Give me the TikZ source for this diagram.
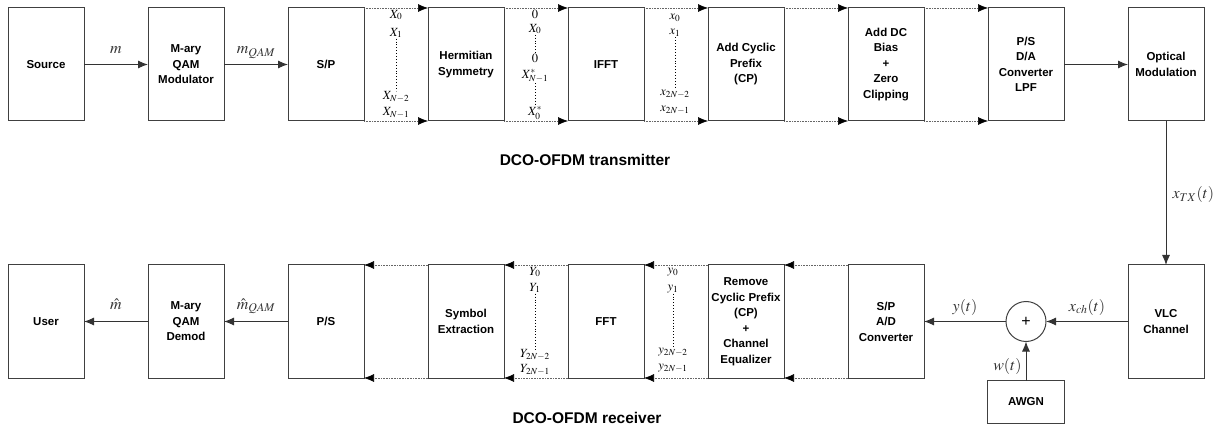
\documentclass[tikz,border=0pt]{standalone}
\usepackage{amsmath}
\usepackage{mathptmx}
\usepackage[no-math]{fontspec}
\newfontfamily\blockfont{Liberation Sans}
\usetikzlibrary{arrows.meta,positioning,calc}

\begin{document}
\begin{tikzpicture}[
    x=1pt, y=-1pt,
    node distance=64pt,
    block/.style={rectangle, draw=black!75, line width=1pt, outer sep=0pt, inner sep=1pt,
        minimum width=76pt, minimum height=113pt, align=center,
        font=\blockfont\bfseries\fontsize{11.5}{15.5}\selectfont},
    noise/.style={block, minimum width=77pt, minimum height=43pt},
    adder/.style={circle, draw=black!75, line width=1pt, outer sep=0pt, inner sep=0pt,
        minimum size=40pt, font=\blockfont\fontsize{16}{16}\selectfont},
    connection/.style={-{Latex[length=10pt,width=8pt]}, line width=1pt, black!80},
    bus/.style={-{Latex[length=10pt,width=8pt,color=black]}, densely dotted, line width=0.6pt, black!60},
    vdots/.style={line width=0.9pt, dash pattern=on 0.9pt off 2pt},
    lbl/.style={inner sep=1pt, text depth=0pt, font=\fontsize{16}{16}\selectfont},
    vec/.style={inner sep=0.5pt, font=\fontsize{12.5}{12.5}\selectfont},
    title/.style={font=\blockfont\bfseries\fontsize{15.5}{18}\selectfont}
]
\useasboundingbox (0,0) rectangle (1223,430);

% Transmitter
\node[block] (src) at (46,64.5) {Source};
\node[block, right=of src] (mod) {M-ary\\QAM\\Modulator};
\node[block, right=of mod] (sp) {S/P};
\node[block, right=of sp] (herm) {Hermitian\\Symmetry};
\node[block, right=of herm] (ifft) {IFFT};
\node[block, right=of ifft] (acp) {Add Cyclic\\Prefix\\(CP)};
\node[block, right=of acp] (adc) {Add DC\\Bias\\+\\Zero\\Clipping};
\node[block, right=of adc] (ps) {P/S\\D/A\\Converter\\LPF};
\node[block, right=of ps] (opt) {Optical\\Modulation};
\node[title] (txt) at (585,160) {DCO-OFDM transmitter};

% Receiver
\node[block, below=144pt of src] (usr) {User};
\node[block, below=144pt of mod] (dem) {M-ary\\QAM\\Demod};
\node[block, below=144pt of sp] (ps2) {P/S};
\node[block, below=144pt of herm] (sym) {Symbol\\Extraction};
\node[block, below=144pt of ifft] (fft) {FFT};
\node[block, below=144pt of acp] (rcp) {Remove\\Cyclic Prefix\\(CP)\\+\\Channel\\Equalizer};
\node[block, below=144pt of adc] (spad) {S/P\\A/D\\Converter};
\node[block, below=144pt of opt] (vlc) {VLC\\Channel};
\node[adder] (sum) at (ps |- vlc) {+};
\node[noise, below=39pt of sum] (awgn) {AWGN};
\node[title] (rxt) at (587,418) {DCO-OFDM receiver};

% Subcarrier labels
\node[vec] (a0) at (396,15) {$X_0$};
\node[vec] (a1) at (396,33) {$X_1$};
\node[vec] (a2) at (396,97) {$X_{N-2}$};
\node[vec] (a3) at (396,113) {$X_{N-1}$};
\draw[vdots] (a1) -- (a2);

\node[vec] (b0) at (535,14) {$0$};
\node[vec] (b1) at (535,29) {$X_0$};
\node[vec] (b2) at (535,58) {$0$};
\node[vec] (b3) at (535,76) {$X^*_{N-1}$};
\node[vec] (b4) at (535,113) {$X^*_0$};
\draw[vdots] (b1) -- (b2);
\draw[vdots] (b3) -- (b4);

\node[vec] (c0) at (675,18) {$x_0$};
\node[vec] (c1) at (675,33) {$x_1$};
\node[vec] (c2) at (675,94) {$x_{2N-2}$};
\node[vec] (c3) at (675,110) {$x_{2N-1}$};
\draw[vdots] (c1) -- (c2);

\node[vec] (d0) at (535,272) {$Y_0$};
\node[vec] (d1) at (535,288) {$Y_1$};
\node[vec] (d2) at (535,355) {$Y_{2N-2}$};
\node[vec] (d3) at (535,370) {$Y_{2N-1}$};
\draw[vdots] (d1) -- (d2);

\node[vec] (e0) at (673,272) {$y_0$};
\node[vec] (e1) at (673,289) {$y_1$};
\node[vec] (e2) at (673,352) {$y_{2N-2}$};
\node[vec] (e3) at (673,368) {$y_{2N-1}$};
\draw[vdots] (e1) -- (e2);

% Transmitter connections
\draw[connection] (src) -- node[lbl, above=9pt] {$m$} (mod);
\draw[connection] (mod) -- node[lbl, above=9pt] {$m_{QAM}$} (sp);
\draw[bus] (sp.north east) -- (herm.north west);
\draw[bus] (sp.south east) -- (herm.south west);
\draw[bus] (herm.north east) -- (ifft.north west);
\draw[bus] (herm.south east) -- (ifft.south west);
\draw[bus] (ifft.north east) -- (acp.north west);
\draw[bus] (ifft.south east) -- (acp.south west);
\draw[bus] (acp.north east) -- (adc.north west);
\draw[bus] (acp.south east) -- (adc.south west);
\draw[bus] (adc.north east) -- (ps.north west);
\draw[bus] (adc.south east) -- (ps.south west);
\draw[connection] (ps) -- (opt);

% Channel
\draw[connection] (opt) -- node[lbl, right=5pt] {$x_{TX}(t)$} (vlc);
\draw[connection] (vlc) -- node[lbl, above=9pt] {$x_{ch}(t)$} (sum);
\draw[connection] (awgn) -- node[lbl, left=3pt, pos=0.4] {$w(t)$} (sum);
\draw[connection] (sum) -- node[lbl, above=9pt] {$y(t)$} (spad);

% Receiver connections
\draw[bus] (spad.north west) -- (rcp.north east);
\draw[bus] (spad.south west) -- (rcp.south east);
\draw[bus] (rcp.north west) -- (fft.north east);
\draw[bus] (rcp.south west) -- (fft.south east);
\draw[bus] (fft.north west) -- (sym.north east);
\draw[bus] (fft.south west) -- (sym.south east);
\draw[bus] (sym.north west) -- (ps2.north east);
\draw[bus] (sym.south west) -- (ps2.south east);
\draw[connection] (ps2) -- node[lbl, above=11pt] {$\hat{m}_{QAM}$} (dem);
\draw[connection] (dem) -- node[lbl, above=11pt] {$\hat{m}$} (usr);

\end{tikzpicture}
\end{document}
